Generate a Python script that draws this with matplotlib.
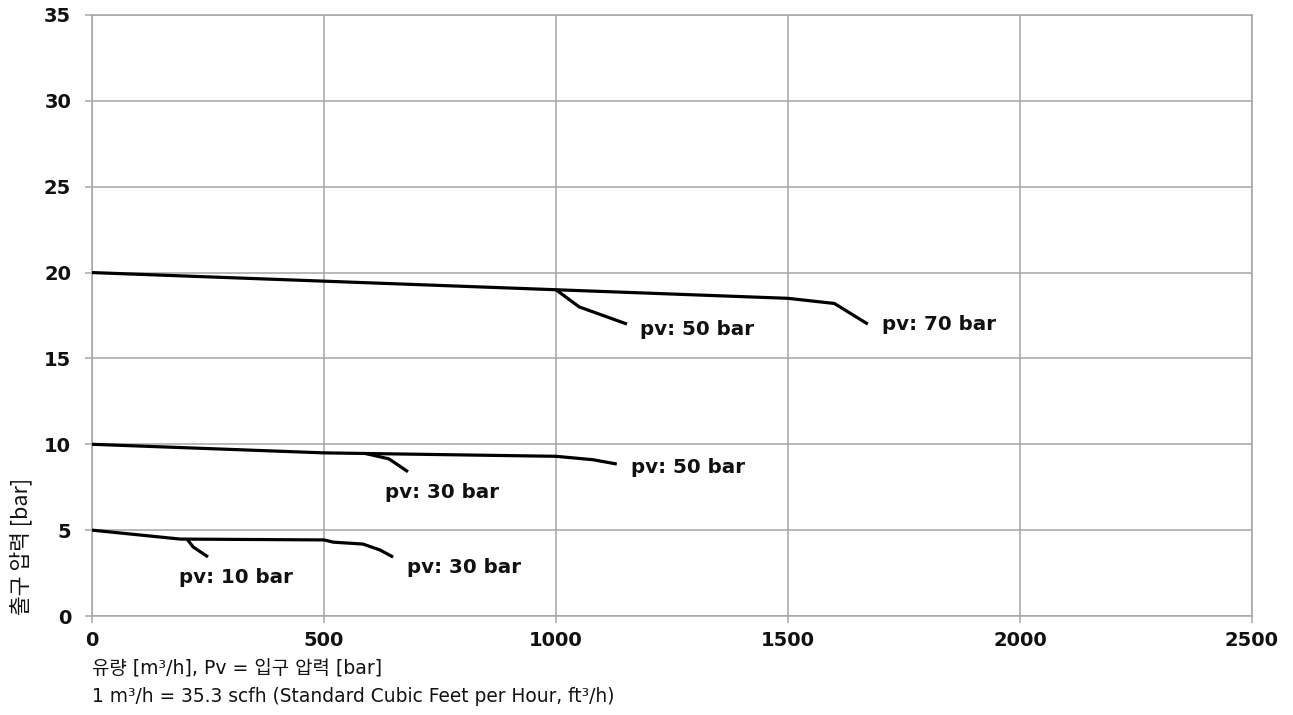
import matplotlib
matplotlib.use("Agg")
import matplotlib.pyplot as plt

# ---- data ----
line70_x = [0, 1000, 1500, 1600, 1672]
line70_y = [20, 19.0, 18.5, 18.2, 17.0]

branch50a_x = [1000, 1050, 1153]
branch50a_y = [19.0, 18.0, 17.0]

line50_x = [0, 500, 1000, 1080, 1131]
line50_y = [10, 9.5, 9.3, 9.1, 8.85]

branch30a_x = [590, 640, 681]
branch30a_y = [9.46, 9.15, 8.4]

line30_x = [0, 190, 500, 520, 584, 621, 649]
line30_y = [5, 4.48, 4.43, 4.3, 4.19, 3.84, 3.43]

branch10_x = [205, 218, 250]
branch10_y = [4.47, 4.02, 3.44]

label_texts = ["pv: 70 bar", "pv: 50 bar", "pv: 50 bar", "pv: 30 bar", "pv: 30 bar", "pv: 10 bar"]
label_x = [1703, 1181, 1162, 631, 679, 187]
label_y = [16.95, 16.66, 8.62, 7.22, 2.85, 2.27]

x_ticks = [0, 500, 1000, 1500, 2000, 2500]
y_ticks = [0, 5, 10, 15, 20, 25, 30, 35]

xlabel_line1 = "유량 [m³/h], Pv = 입구 압력 [bar]"
xlabel_line2 = "1 m³/h = 35.3 scfh (Standard Cubic Feet per Hour, ft³/h)"
ylabel_text = "출구 압력 [bar]"

# ---- figure ----
W, H = 1293, 715
fig = plt.figure(figsize=(W / 100, H / 100), dpi=100)
ax = fig.add_axes([92 / W, (H - 616) / H, (1252 - 92) / W, (616 - 15) / H])

txt_color = "#111111"
grid_color = "#a6a6a6"

series = [(line70_x, line70_y), (branch50a_x, branch50a_y), (line50_x, line50_y),
          (branch30a_x, branch30a_y), (line30_x, line30_y), (branch10_x, branch10_y)]
for xs, ys in series:
    ax.plot(xs, ys, color="black", lw=2.3, solid_capstyle="butt", solid_joinstyle="round", zorder=3)

for t, x, y in zip(label_texts, label_x, label_y):
    ax.text(x, y, t, ha="left", va="center", fontsize=14.3, fontweight="bold",
            family="DejaVu Sans", color=txt_color)

ax.set_xlim(0, 2500)
ax.set_ylim(0, 35)
ax.set_xticks(x_ticks)
ax.set_yticks(y_ticks)
ax.grid(True, color=grid_color, lw=1.1)
ax.set_axisbelow(True)
for s in ax.spines.values():
    s.set_color(grid_color)
    s.set_linewidth(1.1)
ax.tick_params(axis="both", colors=grid_color, length=5, width=1.1, labelcolor=txt_color)
ax.tick_params(axis="x", pad=6)
ax.tick_params(axis="y", pad=10)
for lab in ax.get_xticklabels() + ax.get_yticklabels():
    lab.set_fontsize(14)
    lab.set_fontweight("bold")
    lab.set_family("DejaVu Sans")

fam = ["DejaVu Sans", "Noto Sans CJK KR"]
fig.text(92 / W, 1 - 668 / H, xlabel_line1, ha="left", va="center", fontsize=13.6,
         family=fam, color=txt_color)
fig.text(92 / W, 1 - 697 / H, xlabel_line2, ha="left", va="center", fontsize=13.45,
         family=fam, color=txt_color)
fig.text(21 / W, 1 - 546 / H, ylabel_text, ha="center", va="center", rotation=90,
         fontsize=15.5, family=["Noto Sans CJK KR", "DejaVu Sans"], color=txt_color)

fig.savefig("out.png", dpi=100, facecolor="white")
